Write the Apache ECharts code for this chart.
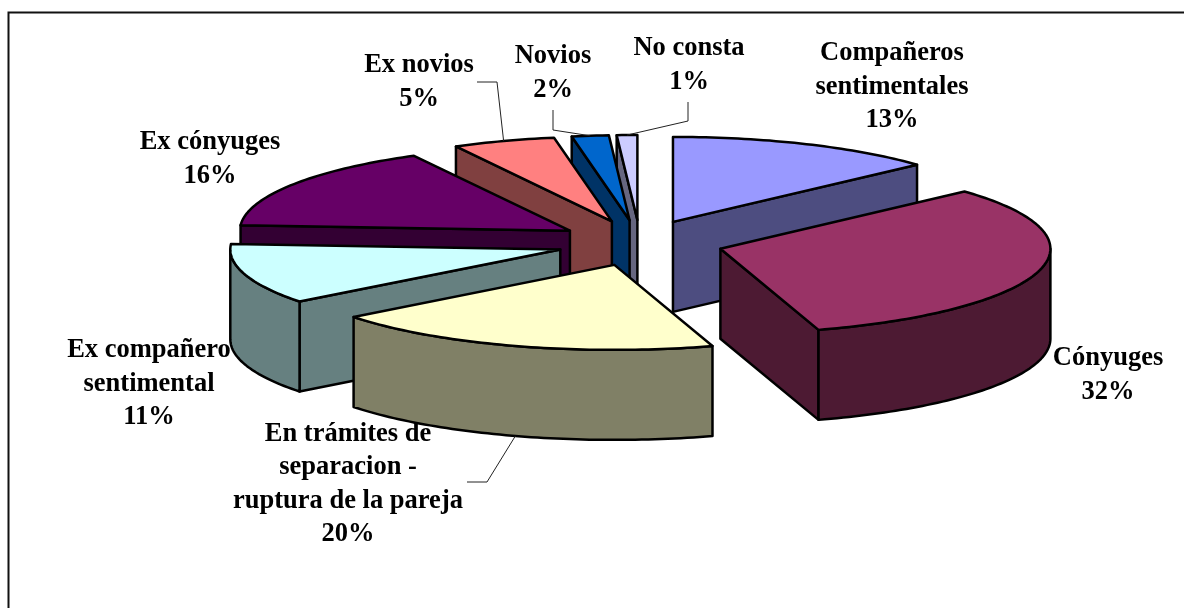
<!DOCTYPE html>
<html>
<head>
<meta charset="utf-8">
<script src="https://cdn.jsdelivr.net/npm/echarts@6/dist/echarts.min.js"></script>
<style>
    html, body { margin: 0; padding: 0; background: #fff; }
    #main { width: 1184px; height: 608px; }
</style>
</head>
<body>
<div id="main"></div>
<script>
var categories = ['Compañeros\nsentimentales', 'Cónyuges', 'En trámites de\nseparacion -\nruptura de la pareja',
    'Ex compañero\nsentimental', 'Ex cónyuges', 'Ex novios', 'Novios', 'No consta'];
var values = [13, 32, 20, 11, 16, 5, 2, 1];

var topColors = ['#9999ff', '#993366', '#ffffcc', '#ccffff', '#660066', '#ff8080', '#0066cc', '#ccccff'];
var sideColors = ['#4d4d80', '#4d1a33', '#808066', '#668080', '#330033', '#804040', '#003366', '#666680'];
// paint order, back to front
var paintOrder = [0, 7, 6, 5, 4, 3, 2, 1];
// label centre [x, y] and, when there is one, the start and elbow of the leader line
var labelPos = [[892, 87], [1108, 375], [348, 484], [149, 384], [210, 159], [419, 82], [553, 73], [689, 65]];
var leaders = {
    2: [[467, 482], [487, 482]],
    5: [[477, 82], [497, 82]],
    6: [[553, 110], [553, 130]],
    7: [[688, 102], [688, 121]]
};
// small correction in degrees at the start of each slice, the original has some perspective in it
var startFix = [0, 0.9, 0.7, -1.8, 0, 0.6, 0.7, 0, 0];

// pie geometry
var cx = 640, cy = 243, rx = 330, ry = 85, depth = 90, explodeX = 83, explodeY = 23;
var total = values.reduce(function (a, b) { return a + b; }, 0);

function arcPoint(c, a, drop) {
    return [c[0] + rx * Math.sin(a), c[1] - ry * Math.cos(a) + (drop || 0)];
}

function arcPoints(c, a0, a1, drop) {
    var pts = [], n = Math.max(2, Math.ceil((a1 - a0) / 0.02));
    for (var i = 0; i <= n; i++) {
        pts.push(arcPoint(c, a0 + (a1 - a0) * i / n, drop));
    }
    return pts;
}

function edge(points, color, z) {
    return {
        type: 'polygon',
        z2: z,
        shape: { points: points },
        style: { fill: color, stroke: '#000', lineWidth: 2.5, lineJoin: 'round' }
    };
}

function renderSlice(params, api) {
    var i = params.dataIndex;
    var before = 0;
    for (var k = 0; k < i; k++) before += values[k];
    var value = api.value(0);
    var mid = (before + value / 2) / total * Math.PI * 2;
    var a0 = before / total * Math.PI * 2 + startFix[i] * Math.PI / 180;
    var a1 = (before + value) / total * Math.PI * 2 + startFix[i + 1] * Math.PI / 180;
    var c = [cx + explodeX * Math.sin(mid), cy - explodeY * Math.cos(mid)];
    var z = paintOrder.indexOf(i) * 10;
    var side = sideColors[i];
    var children = [];
    var cBottom = [c[0], c[1] + depth];

    // cut faces that look towards the viewer
    if (Math.sin(a0) < 0) {
        var p0 = arcPoint(c, a0);
        children.push(edge([c, p0, [p0[0], p0[1] + depth], cBottom], side, z));
    }
    if (Math.sin(a1) > 0) {
        var p1 = arcPoint(c, a1);
        children.push(edge([c, p1, [p1[0], p1[1] + depth], cBottom], side, z));
    }
    // outer wall, only the front half of the ellipse shows
    var w0 = Math.max(a0, Math.PI / 2), w1 = Math.min(a1, Math.PI * 1.5);
    if (w1 > w0) {
        var upper = arcPoints(c, w0, w1);
        var lower = arcPoints(c, w0, w1, depth).reverse();
        children.push(edge(upper.concat(lower), side, z + 1));
    }
    // top face
    children.push(edge([c].concat(arcPoints(c, a0, a1)), topColors[i], z + 2));

    // leader line ends on the rim at the middle of the slice
    if (leaders[i]) {
        var end = arcPoint(c, (a0 + a1) / 2, Math.cos(mid) < 0 ? depth : 0);
        children.push({
            type: 'polyline',
            z2: 200,
            shape: { points: leaders[i].concat([end]) },
            style: { fill: null, stroke: '#222', lineWidth: 1 }
        });
    }
    children.push({
        type: 'text',
        z2: 300,
        style: {
            text: categories[i] + '\n' + value + '%',
            x: labelPos[i][0],
            y: labelPos[i][1],
            align: 'center',
            verticalAlign: 'middle',
            fontFamily: '"Liberation Serif"',
            fontWeight: 'bold',
            fontSize: 26.5,
            lineHeight: 33.5,
            fill: '#000'
        }
    });
    return { type: 'group', children: children };
}

var chart = echarts.init(document.getElementById('main'), null, { renderer: 'canvas' });
chart.setOption({
    animation: false,
    backgroundColor: '#fff',
    graphic: [{
        type: 'polyline',
        shape: { points: [[8.5, 608], [8.5, 12.5], [1184, 12.5]] },
        style: { fill: null, stroke: '#111', lineWidth: 2 }
    }],
    series: [{
        type: 'custom',
        coordinateSystem: 'none',
        renderItem: renderSlice,
        data: values.map(function (v, i) { return { name: categories[i], value: [v] }; })
    }]
});

window.addEventListener('resize', function () {
    chart.resize();
});
</script>
</body>
</html>
